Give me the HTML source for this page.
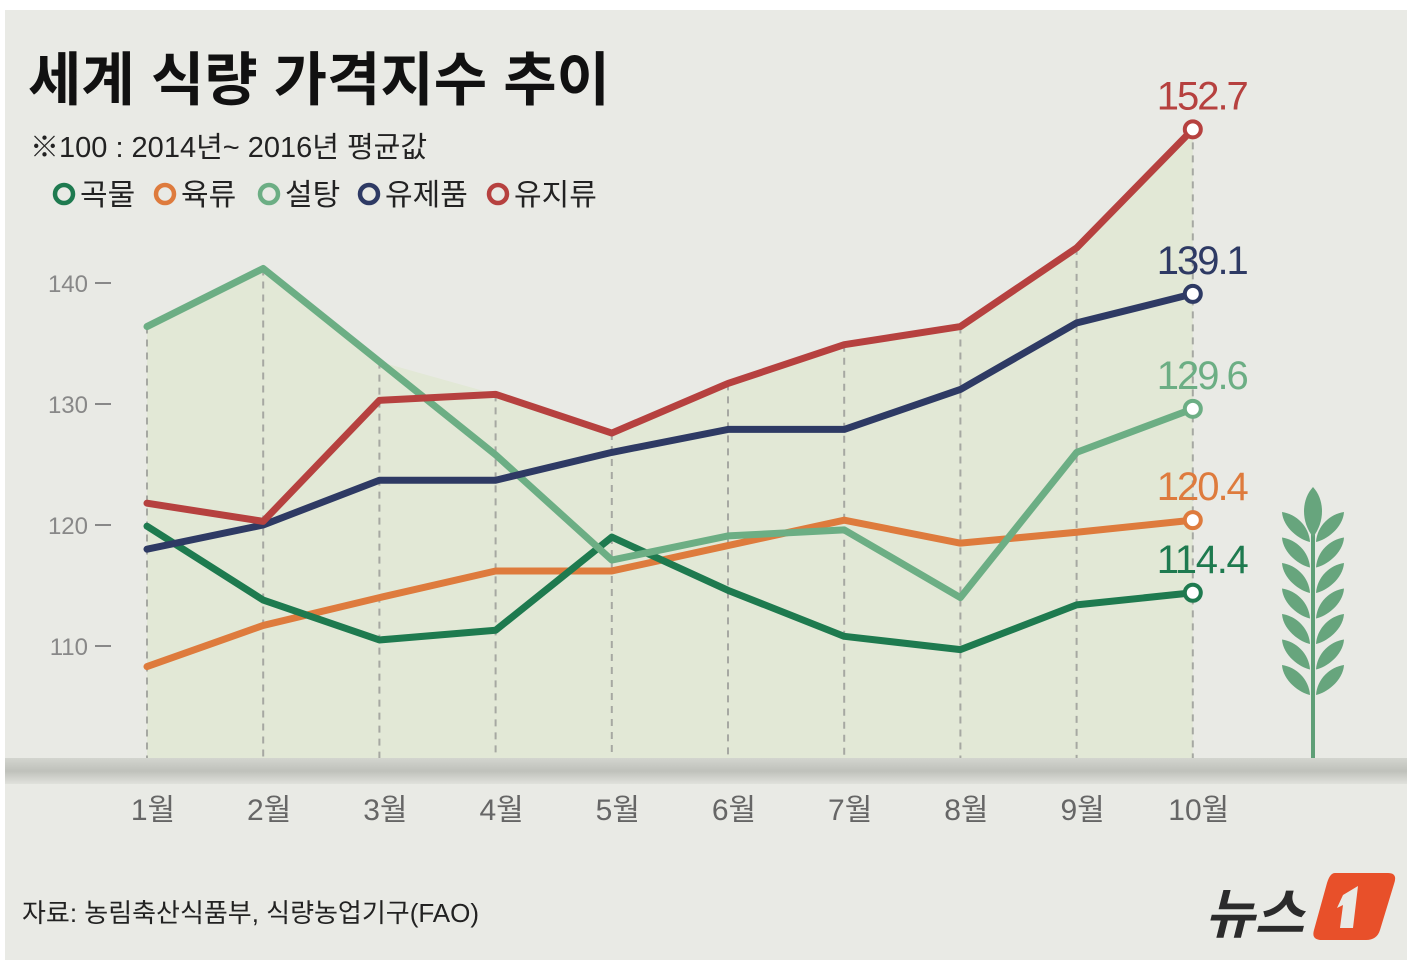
<!DOCTYPE html>
<html><head><meta charset="utf-8">
<style>
body{margin:0;background:#fff;}
#wrap{position:relative;width:1410px;height:964px;overflow:hidden;background:#fff;}
svg text{font-family:"Liberation Sans","Noto Sans CJK KR",sans-serif;}
</style></head>
<body>
<div id="wrap">
<svg id="chart" width="1410" height="964" viewBox="0 0 1410 964">
<defs>
<linearGradient id="band" x1="0" y1="0" x2="0" y2="1">
<stop offset="0" stop-color="#d3d5cf"/><stop offset="0.5" stop-color="#bfc1bb"/><stop offset="1" stop-color="#e0e1dc"/>
</linearGradient>
</defs>
<rect x="5" y="10" width="1402" height="950" fill="#e9eae5"/>
<text x="28" y="100" font-size="58" font-weight="bold" fill="#111">세계 식량 가격지수 추이</text>
<text x="30" y="157" font-size="29" fill="#222">※100 : 2014년~ 2016년 평균값</text>
<g id="legend"></g>
<g id="plot"></g>
<g fill="#67a57d">
<rect x="1311" y="530" width="4" height="246" fill="#5f9f77"/>
<path d="M1313 487 C1325 500 1325 522 1313 537 C1301 522 1301 500 1313 487Z"/>
<g id="wheat"></g>
</g>
<rect x="5" y="758" width="1402" height="26" fill="url(#band)"/>
<text x="22" y="922" font-size="26" fill="#222">자료: 농림축산식품부, 식량농업기구(FAO)</text>
<g>
<text x="1205" y="933" font-size="54" font-weight="bold" font-style="italic" fill="#2b2b2b">뉴스</text>
<path d="M1335 873 L1388 873 Q1398 873 1394 884 L1380 930 Q1377 940 1366 940 L1322 940 Q1311 940 1314 930 L1327 883 Q1330 873 1335 873Z" fill="#e8502a"/>
<path d="M1343 895 L1358 886 L1353 928 L1340 928 L1343 905 L1337 908Z" fill="#e9eae5"/>
</g>
</svg>
</div>
<script>
const months=["1월","2월","3월","4월","5월","6월","7월","8월","9월","10월"];
const yTicks=[110,120,130,140];
const seriesNames=["곡물","육류","설탕","유제품","유지류"];
const cereal=[119.9,113.8,110.5,111.3,119.0,114.6,110.8,109.7,113.4,114.4];
const meat=[108.3,111.7,114.0,116.2,116.2,118.3,120.4,118.5,119.4,120.4];
const sugar=[136.4,141.2,133.5,125.8,117.1,119.1,119.6,114.0,126.0,129.6];
const dairy=[118.0,120.0,123.7,123.7,126.0,127.9,127.9,131.2,136.7,139.1];
const oils=[121.8,120.3,130.3,130.8,127.6,131.7,134.9,136.4,142.9,152.7];
const endLabels=["114.4","120.4","129.6","139.1","152.7"];

const NS="http://www.w3.org/2000/svg";
const colors=["#1e7a4f","#de7b3d","#6cae84","#2e3a64","#b6413f"];
const data=[cereal,meat,sugar,dairy,oils];
function x(i){return 147+i*116.2;}
function y(v){return 283+(140-v)*12.1;}
function mk(tag,attrs,parent){const e=document.createElementNS(NS,tag);for(const k in attrs)e.setAttribute(k,attrs[k]);parent.appendChild(e);return e;}
const plot=document.getElementById('plot');
const topVals=months.map((m,i)=>Math.max(...data.map(s=>s[i])));
const areaD="M"+x(0)+" 770 "+topVals.map((v,i)=>"L"+x(i)+" "+y(v)).join(" ")+" L"+x(9)+" 770Z";
const area=mk('path',{d:areaD,fill:"#e2e8d6"},plot);


months.forEach((m,i)=>{
  const g=mk('line',{x1:x(i),x2:x(i),y1:y(topVals[i]),y2:776,stroke:"#a6a8a2","stroke-width":2,"stroke-dasharray":"7 6"},plot);
  
  
  const t=mk('text',{x:x(i)+6,y:820,"font-size":30,fill:"#666","text-anchor":"middle"},plot);
  t.textContent=m;
  
  
});
yTicks.forEach(v=>{
  const t=mk('text',{x:88,y:y(v)+9,"font-size":24,fill:"#888","text-anchor":"end"},plot);
  t.textContent=v;
  
  
  const l=mk('line',{x1:95,x2:111,y1:y(v),y2:y(v),stroke:"#888","stroke-width":2},plot);
  
  
});
const order=[1,0,2,3,4];
order.forEach(si=>{
  const s=data[si];
  const p=mk('polyline',{points:s.map((v,i)=>x(i)+","+y(v)).join(" "),fill:"none",stroke:colors[si],"stroke-width":7,"stroke-linejoin":"round","stroke-linecap":"round"},plot);
  
  
});
data.forEach((s,si)=>{
  const c=mk('circle',{cx:x(9),cy:y(s[9]),r:8,fill:"#fff",stroke:colors[si],"stroke-width":4},plot);
  
  
  const t=mk('text',{x:x(9)+10,y:y(s[9])-20,"font-size":40,fill:colors[si],"text-anchor":"middle","textLength":92},plot);
  t.textContent=endLabels[si];
  
  
});
const leg=document.getElementById('legend');
const lx=[64,165,269,369,498];
seriesNames.forEach((n,i)=>{
  const c=mk('circle',{cx:lx[i],cy:194,r:9,fill:"none",stroke:colors[i],"stroke-width":4.5},leg);
  
  
  const t=mk('text',{x:lx[i]+16,y:205,"font-size":30,fill:"#222"},leg);
  t.textContent=n;
  
  
});
const w=document.getElementById('wheat');
for(let k=0;k<7;k++){
  const cy=520+k*25.5;
  mk('path',{d:`M1310 ${cy+22} C1300 ${cy+20} 1283 ${cy+8} 1282 ${cy-8} C1296 ${cy-6} 1309 ${cy+6} 1310 ${cy+22}Z`},w);
  mk('path',{d:`M1316 ${cy+22} C1326 ${cy+20} 1343 ${cy+8} 1344 ${cy-8} C1330 ${cy-6} 1317 ${cy+6} 1316 ${cy+22}Z`},w);
}
</script>
</body></html>
